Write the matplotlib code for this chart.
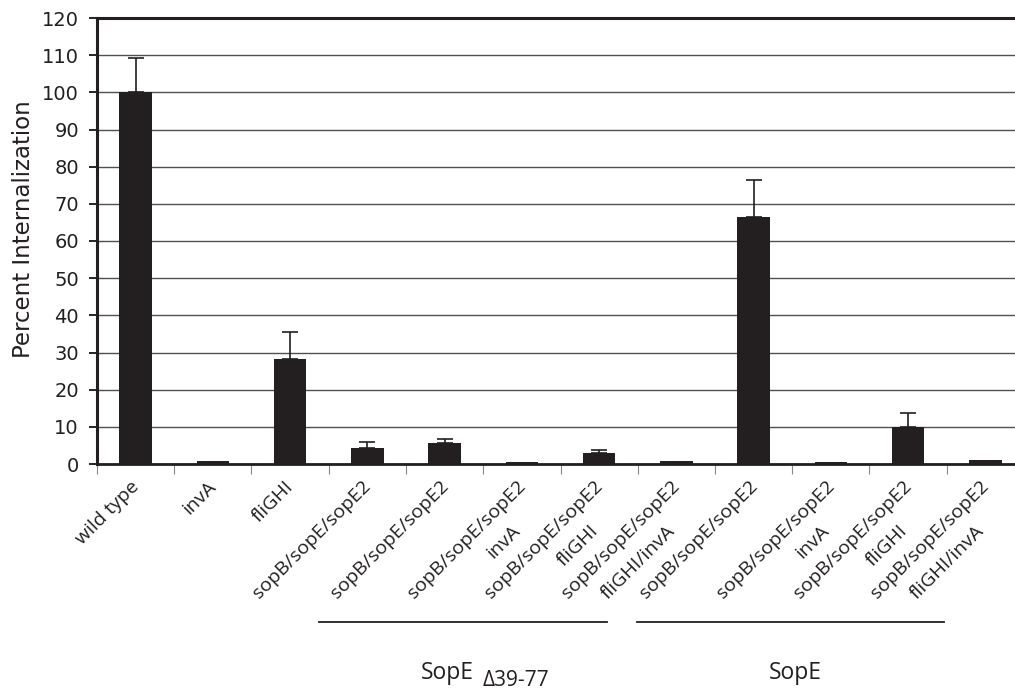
import matplotlib
matplotlib.use("Agg")
import matplotlib.pyplot as plt
import matplotlib.transforms as mtransforms
import numpy as np

categories = [
    "wild type",
    "invA",
    "fliGHI",
    "sopB/sopE/sopE2",
    "sopB/sopE/sopE2",
    "sopB/sopE/sopE2\ninvA",
    "sopB/sopE/sopE2\nfliGHI",
    "sopB/sopE/sopE2\nfliGHI/invA",
    "sopB/sopE/sopE2",
    "sopB/sopE/sopE2\ninvA",
    "sopB/sopE/sopE2\nfliGHI",
    "sopB/sopE/sopE2\nfliGHI/invA",
]
values = [100.2, 0.8, 28.3, 4.4, 5.7, 0.5, 2.9, 0.9, 66.4, 0.6, 10.0, 1.0]
errors = [9.0, 0.0, 7.3, 1.4, 1.0, 0.0, 0.9, 0.0, 10.1, 0.0, 3.6, 0.0]
y_ticks = list(range(0, 121, 10))
group_names = ["SopE", "SopE"]
group_subs = ["\u039439-77", ""]
group_spans = [(2.38, 6.10), (6.49, 10.47)]
group_label_x = [4.03, 8.54]
group_sub_x = [4.49, None]

INK = "#231f20"
LBL_FONT = "Open Sans"

fig = plt.figure(figsize=(10.15, 6.9), dpi=100)
ax = fig.add_axes([97/1015, 1-464/690, 927/1015, (464-18)/690])

x = np.arange(len(categories))
ax.bar(x, values, width=0.42, color=INK, zorder=3)
for xi, v, e in zip(x, values, errors):
    if e > 0:
        ax.errorbar(xi, v, yerr=[[0], [e]], fmt="none", ecolor=INK,
                    elinewidth=1.2, capsize=6, capthick=1.2, zorder=4)

ax.set_xlim(-0.5, len(categories) - 0.5)
ax.set_ylim(0, 120)
ax.set_yticks(y_ticks)
ax.set_yticklabels([str(t) for t in y_ticks], fontsize=14, color=INK,
                   family="DejaVu Sans")
ax.yaxis.grid(True, color="#505050", linewidth=1.0, zorder=0)
ax.set_axisbelow(True)

ax.spines["left"].set_linewidth(2.2)
ax.spines["top"].set_linewidth(2.2)
ax.spines["bottom"].set_linewidth(2.0)
ax.spines["right"].set_visible(False)
for s in ax.spines.values():
    s.set_color(INK)
ax.tick_params(axis="y", direction="out", length=6, width=1.2, pad=7)

ax.set_xticks(np.arange(len(categories) + 1) - 0.5, minor=True)
ax.set_xticks(x)
ax.tick_params(axis="x", which="major", length=0)
ax.tick_params(axis="x", which="minor", length=7, width=0.8, color="#888888")
ax.set_xticklabels([])

trans = mtransforms.blended_transform_factory(ax.transData, ax.transAxes)
t2 = mtransforms.offset_copy(trans, fig=fig, x=-3.5, y=-32, units="points")
for xi, lab in zip(x, categories):
    lines = lab.split("\n")
    ax.text(xi - 0.07, -0.03, lines[0], transform=trans, rotation=45,
            rotation_mode="anchor", ha="right", va="top",
            fontsize=14, family=LBL_FONT, color=INK)
    if len(lines) > 1:
        ax.text(xi - 0.07, -0.03, lines[1], transform=t2, rotation=45,
                rotation_mode="anchor", ha="right", va="top",
                fontsize=14, family=LBL_FONT, color=INK)

ax.set_ylabel("Percent Internalization", fontsize=16.5, family="DejaVu Sans",
              color=INK)
ax.yaxis.set_label_coords(-0.067, 0.527)

for name, sub, (x0, x1), lx, sx in zip(group_names, group_subs, group_spans,
                                       group_label_x, group_sub_x):
    ax.plot([x0, x1], [-0.354, -0.354], transform=trans, color=INK,
            linewidth=1.3, clip_on=False)
    ax.text(lx, -0.482, name, transform=trans, ha="center",
            va="baseline", fontsize=16.5, family=LBL_FONT, color=INK)
    if sub:
        ax.text(sx, -0.497, sub, transform=trans, ha="left",
                va="baseline", fontsize=15, family=LBL_FONT, color=INK)

fig.savefig("out.png", dpi=100)
